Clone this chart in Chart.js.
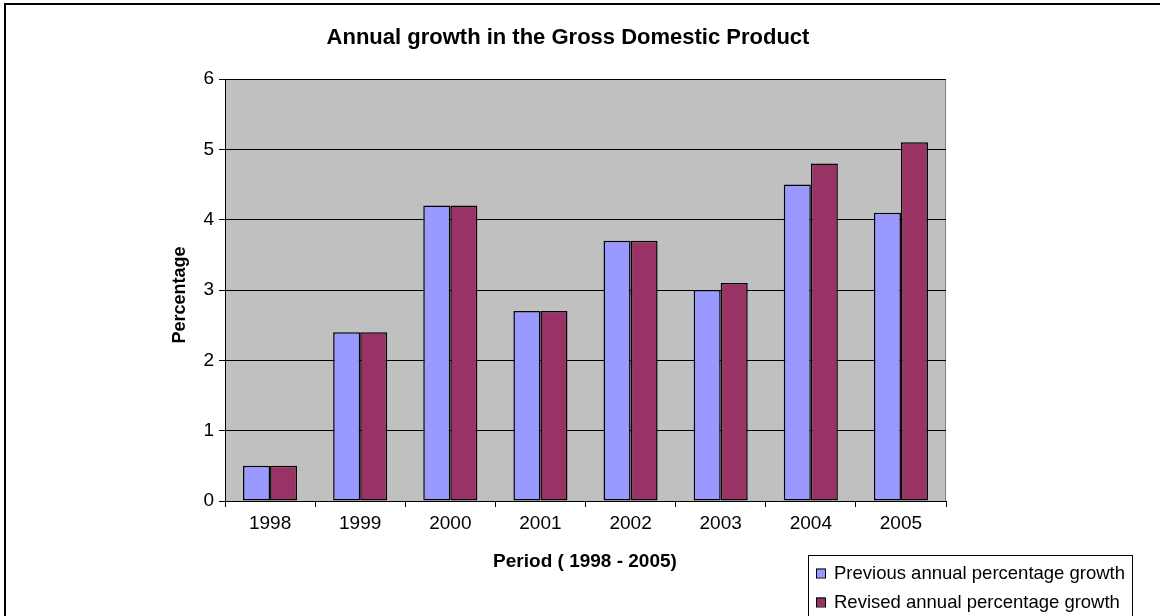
<!DOCTYPE html>
<html><head><meta charset="utf-8">
<script src="https://cdn.jsdelivr.net/npm/chart.js@4"></script>
<style>html,body{margin:0;padding:0;background:#fff}#wrap{width:1160px;height:616px}</style>
</head><body><div id="wrap"><canvas id="c" width="1160" height="616"></canvas></div>
<script>
const categories = ['1998','1999','2000','2001','2002','2003','2004','2005'];
const previousGrowth = [0.5, 2.4, 4.2, 2.7, 3.7, 3.0, 4.5, 4.1];
const revisedGrowth = [0.5, 2.4, 4.2, 2.7, 3.7, 3.1, 4.8, 5.1];
const seriesNames = ['Previous annual percentage growth', 'Revised annual percentage growth'];
const titleText = 'Annual growth in the Gross Domestic Product';
const xTitle = 'Period ( 1998 - 2005)';
const yTitle = 'Percentage';

const FONT = '"Liberation Sans", Arial, sans-serif';

const decor = {
  id: 'decor',
  beforeDraw(chart) {
    const {ctx, chartArea: a} = chart;
    ctx.save();
    ctx.fillStyle = '#fff';
    ctx.fillRect(0, 0, chart.width, chart.height);
    ctx.fillStyle = '#C0C0C0';
    ctx.fillRect(a.left, a.top, a.right - a.left, a.bottom - a.top);
    ctx.strokeStyle = '#808080';
    ctx.lineWidth = 1;
    ctx.strokeRect(a.left + 0.5, a.top + 0.5, a.right - a.left - 1, a.bottom - a.top);
    ctx.restore();
  },
  afterDraw(chart) {
    const {ctx} = chart;
    ctx.save();
    ctx.strokeStyle = '#000';
    ctx.lineWidth = 2;
    ctx.strokeRect(5, 4, 1300, 1300);
    ctx.fillStyle = '#000';
    ctx.textAlign = 'center';
    ctx.textBaseline = 'alphabetic';
    ctx.font = 'bold 22px ' + FONT;
    ctx.fillText(titleText, 568, 44);
    ctx.font = 'bold 19px ' + FONT;
    ctx.fillText(xTitle, 585, 567);
    ctx.font = 'bold 18px ' + FONT;
    ctx.save();
    ctx.translate(185, 295);
    ctx.rotate(-Math.PI / 2);
    ctx.fillText(yTitle, 0, 0);
    ctx.restore();
    ctx.lineWidth = 1;
    ctx.strokeStyle = '#000';
    ctx.strokeRect(808.5, 555.5, 324, 100);
    ctx.font = '18.5px ' + FONT;
    ctx.textAlign = 'left';
    ctx.textBaseline = 'middle';
    chart.data.datasets.forEach((ds, i) => {
      const y = 573 + i * 29;
      ctx.fillStyle = ds.backgroundColor;
      ctx.fillRect(816, y - 4.5, 9, 9);
      ctx.strokeRect(816.5, y - 4, 9, 9);
      ctx.fillStyle = '#000';
      ctx.fillText(ds.label, 834, y + 1);
    });
    ctx.restore();
  }
};

new Chart(document.getElementById('c'), {
  type: 'bar',
  data: {
    labels: categories,
    datasets: [
      {label: seriesNames[0], data: previousGrowth, backgroundColor: '#9999FF', borderColor: '#000', borderWidth: 1.5, borderSkipped: false},
      {label: seriesNames[1], data: revisedGrowth, backgroundColor: '#993366', borderColor: '#000', borderWidth: 1.5, borderSkipped: false}
    ]
  },
  options: {
    responsive: false,
    animation: false,
    devicePixelRatio: 1,
    layout: {padding: {left: 0, top: 79, right: 214, bottom: 0}},
    plugins: {legend: {display: false}, title: {display: false}, tooltip: {enabled: false}},
    datasets: {bar: {barPercentage: 1.0, categoryPercentage: 0.6}},
    scales: {
      x: {
        afterFit(s) { s.height = 115; },
        grid: {display: true, drawOnChartArea: false, drawTicks: true, tickLength: 6, color: '#000', offset: true},
        border: {display: true, color: '#000', width: 1},
        ticks: {color: '#000', font: {family: FONT, size: 19}, padding: 5, maxRotation: 0}
      },
      y: {
        min: 0, max: 6,
        afterFit(s) { s.width = 225; },
        grid: {color: '#000', lineWidth: 1, tickLength: 6, drawTicks: true},
        border: {display: true, color: '#000', width: 1},
        ticks: {stepSize: 1, color: '#000', font: {family: FONT, size: 19}, padding: 5}
      }
    }
  },
  plugins: [decor]
});
</script>
</body></html>
